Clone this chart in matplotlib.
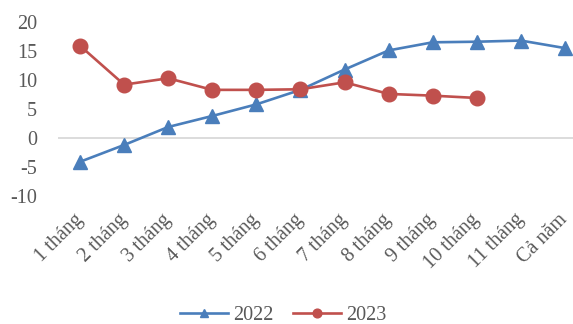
import numpy as np
import matplotlib
matplotlib.use("Agg")
import matplotlib.pyplot as plt

# Tốc độ tăng lũy kế theo tháng (%)
thang = ["1 tháng", "2 tháng", "3 tháng", "4 tháng", "5 tháng", "6 tháng",
         "7 tháng", "8 tháng", "9 tháng", "10 tháng", "11 tháng", "Cả năm"]
nam_2022 = [-4.1, -1.2, 1.9, 3.8, 5.8, 8.3, 11.8, 15.1, 16.5, 16.6, 16.8, 15.5]
nam_2023 = [15.9, 9.2, 10.3, 8.3, 8.3, 8.4, 9.6, 7.6, 7.3, 6.9]
y_ticks = [-10, -5, 0, 5, 10, 15, 20]

mau_xanh = "#4A7EBB"
mau_do = "#C0504D"
mau_chu = "#595959"
co_chu = 14.5

plt.rcParams["font.family"] = ["Liberation Serif", "DejaVu Serif"]

fig = plt.figure(figsize=(5.73, 3.24), dpi=100)
ax = fig.add_axes([58 / 573, 128 / 324, 529 / 573, 174 / 324])

x1 = np.arange(len(nam_2022))
x2 = np.arange(len(nam_2023))
ax.plot(x1, nam_2022, color=mau_xanh, lw=1.9, marker="^", ms=10.5,
        label="2022", zorder=3)
ax.plot(x2, nam_2023, color=mau_do, lw=1.9, marker="o", ms=10.5,
        label="2023", zorder=4)

ax.axhline(0, color="#D9D9D9", lw=1.3, zorder=1)

ax.set_xlim(-0.5, len(thang) - 0.5)
ax.set_ylim(-10, 20)
ax.set_yticks(y_ticks)
ax.set_yticklabels([str(v) for v in y_ticks], fontsize=co_chu, color=mau_chu)
ax.set_xticks(x1)
ax.set_xticklabels(thang, fontsize=co_chu, color=mau_chu, rotation=45,
                   ha="right", va="center", rotation_mode="anchor")
ax.tick_params(axis="both", length=0)
ax.tick_params(axis="x", pad=15)
ax.tick_params(axis="y", pad=15)
for s in ax.spines.values():
    s.set_visible(False)

leg = fig.legend(loc="center", bbox_to_anchor=(283 / 573, 1 - 315 / 324),
                 ncol=2, frameon=False, fontsize=co_chu, handlelength=2.4,
                 columnspacing=0.95, handletextpad=0.25, markerscale=0.6)
for t in leg.get_texts():
    t.set_color(mau_chu)

fig.savefig("out.png", dpi=100)
